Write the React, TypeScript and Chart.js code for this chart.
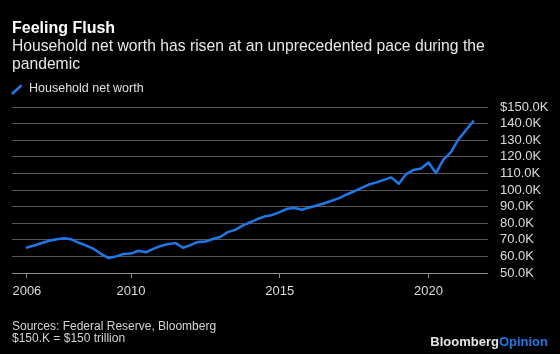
import React, { useEffect, useRef } from "react";
import { Chart, registerables } from "chart.js";

Chart.register(...registerables);

// ---- Data (household net worth, $ trillions, shown as "K") ----
const periods = [
  "2006 Q2", "2006 Q3", "2006 Q4",
  "2007 Q1", "2007 Q2", "2007 Q3", "2007 Q4",
  "2008 Q1", "2008 Q2", "2008 Q3", "2008 Q4",
  "2009 Q1", "2009 Q2", "2009 Q3", "2009 Q4",
  "2010 Q1", "2010 Q2", "2010 Q3", "2010 Q4",
  "2011 Q1", "2011 Q2", "2011 Q3", "2011 Q4",
  "2012 Q1", "2012 Q2", "2012 Q3", "2012 Q4",
  "2013 Q1", "2013 Q2", "2013 Q3", "2013 Q4",
  "2014 Q1", "2014 Q2", "2014 Q3", "2014 Q4",
  "2015 Q1", "2015 Q2", "2015 Q3", "2015 Q4",
  "2016 Q1", "2016 Q2", "2016 Q3", "2016 Q4",
  "2017 Q1", "2017 Q2", "2017 Q3", "2017 Q4",
  "2018 Q1", "2018 Q2", "2018 Q3", "2018 Q4",
  "2019 Q1", "2019 Q2", "2019 Q3", "2019 Q4",
  "2020 Q1", "2020 Q2", "2020 Q3", "2020 Q4",
  "2021 Q1", "2021 Q2",
];

const netWorth = [
  65.4, 66.6, 68.1,
  69.4, 70.3, 70.9, 70.3,
  68.2, 66.5, 64.5, 61.4,
  59.0, 60.0, 61.5, 61.7,
  63.4, 62.5, 64.5, 66.3,
  67.5, 68.0, 65.2, 66.8,
  68.7, 69.0, 70.5, 71.7,
  74.6, 76.0, 78.5, 80.5,
  82.5, 84.1, 85.0, 86.7,
  88.7, 89.2, 88.1, 89.5,
  90.7, 92.0, 93.5, 95.1,
  97.3, 99.2, 101.3, 103.3,
  104.6, 106.1, 107.6, 103.8,
  109.6, 112.1, 112.9, 116.6,
  110.2, 118.3, 122.7, 130.3,
  135.8, 141.3,
];

const xTickValues = [2006.5, 2010, 2015, 2020];
const xTickLabels = ["2006", "2010", "2015", "2020"];
const yTickValues = [50, 60, 70, 80, 90, 100, 110, 120, 130, 140, 150];

const BLUE = "#1f78e8";
const FONT = "'Liberation Sans', Arial, Helvetica, sans-serif";

function periodToX(p: string): number {
  const [y, q] = p.split(" ");
  return Number(y) + Number(q.slice(1)) / 4;
}

export default function App() {
  const ref = useRef<HTMLCanvasElement>(null);

  useEffect(() => {
    document.body.style.margin = "0";
    document.body.style.background = "#000";
    const points = periods.map((p, i) => ({ x: periodToX(p), y: netWorth[i] }));
    const chart = new Chart(ref.current!, {
      type: "line",
      data: {
        datasets: [
          {
            label: "Household net worth",
            data: points,
            borderColor: BLUE,
            backgroundColor: BLUE,
            borderWidth: 2.5,
            pointRadius: 0,
            tension: 0,
            borderJoinStyle: "round",
            borderCapStyle: "round",
          },
        ],
      },
      options: {
        animation: false,
        responsive: false,
        maintainAspectRatio: false,
        layout: { padding: { left: 12, top: 107, right: 0, bottom: 51 } },
        plugins: { legend: { display: false }, tooltip: { enabled: false } },
        scales: {
          x: {
            type: "linear",
            min: 2006,
            max: 2022,
            afterBuildTicks: (s: any) => {
              s.ticks = xTickValues.map((v) => ({ value: v }));
            },
            afterFit: (s: any) => {
              s.height = 30;
            },
            grid: {
              drawOnChartArea: false,
              drawTicks: true,
              tickLength: 5,
              color: "#8c8c8c",
            },
            border: { display: false },
            ticks: {
              autoSkip: false,
              maxRotation: 0,
              padding: 6,
              color: "#dcdcdc",
              font: { family: FONT, size: 13 },
              callback: (_v: any, i: number) => xTickLabels[i],
            },
          },
          y: {
            position: "right",
            min: 50,
            max: 150,
            afterBuildTicks: (s: any) => {
              s.ticks = yTickValues.map((v) => ({ value: v }));
            },
            afterFit: (s: any) => {
              s.width = 72;
            },
            grid: {
              drawTicks: false,
              color: (ctx: any) => (ctx.tick && ctx.tick.value === 50 ? "#8c8c8c" : "#575757"),
              lineWidth: 1,
            },
            border: { display: false },
            ticks: {
              autoSkip: false,
              padding: 12,
              color: "#dcdcdc",
              font: { family: FONT, size: 13 },
              callback: (v: any) => (v === 150 ? "$" : "") + Number(v).toFixed(1) + "K",
            },
          },
        },
      },
    });
    return () => chart.destroy();
  }, []);

  const abs: React.CSSProperties = { position: "absolute", whiteSpace: "nowrap", fontFamily: FONT };

  return (
    <div style={{ position: "fixed", left: 0, top: 0, width: 560, height: 354, background: "#000", overflow: "hidden" }}>
      <canvas ref={ref} width={560} height={354} style={{ position: "absolute", left: 0, top: 0, width: 560, height: 354 }} />
      <div style={{ ...abs, left: 12, top: 20, fontSize: 16, lineHeight: "16px", fontWeight: 700, color: "#fff" }}>
        Feeling Flush
      </div>
      <div style={{ ...abs, left: 12, top: 37, fontSize: 15.7, lineHeight: "18px", color: "#e8e8e8" }}>
        Household net worth has risen at an unprecedented pace during the
        <br />
        pandemic
      </div>
      <svg style={{ position: "absolute", left: 10, top: 83 }} width={14} height={14}>
        <line x1={2.7} y1={10.3} x2={10.7} y2={3} stroke={BLUE} strokeWidth={2.6} strokeLinecap="round" />
      </svg>
      <div style={{ ...abs, left: 29, top: 82, fontSize: 12.5, lineHeight: "12.5px", color: "#e0e0e0" }}>
        Household net worth
      </div>
      <div style={{ ...abs, left: 12, top: 319.5, fontSize: 12, lineHeight: "12px", color: "#d4d4d4" }}>
        Sources: Federal Reserve, Bloomberg
        <br />
        $150.K = $150 trillion
      </div>
      <div style={{ ...abs, right: 12, top: 335, fontSize: 13, lineHeight: "13px", fontWeight: 700 }}>
        <span style={{ color: "#e6e6e6" }}>Bloomberg</span>
        <span style={{ color: "#1f78e8" }}>Opinion</span>
      </div>
    </div>
  );
}
